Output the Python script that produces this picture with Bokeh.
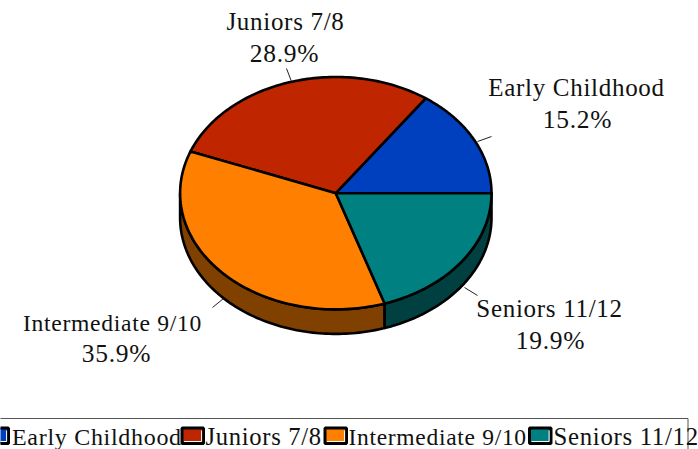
import numpy as np
from bokeh.plotting import figure
from bokeh.models import Range1d
from bokeh.core.properties import value
from bokeh.embed import file_html
from bokeh.resources import INLINE

categories = ["Early Childhood", "Juniors 7/8", "Intermediate 9/10", "Seniors 11/12"]
shares = [15.2, 28.9, 35.9, 19.9]
top_colors = ["#0040BF", "#BF2600", "#FF8000", "#008080"]
side_colors = ["#002060", "#601300", "#804000", "#004040"]

W, H = 698, 449
CX, CY, RX, RY, DEPTH = 335.3, 192.7, 155.7, 116.2, 24.5
FONT = value("Liberation Serif")
SPACING = 0.7

p = figure(width=W, height=H, output_backend="svg", toolbar_location=None,
           x_range=Range1d(0, W), y_range=Range1d(H, 0), min_border=0,
           margin=0, outline_line_color=None, background_fill_color="white",
           styles={"letter-spacing": f"{SPACING}px"})
p.axis.visible = False
p.grid.visible = False


def rim(a0, a1, dy=0.0):
    t = np.radians(np.linspace(a0, a1, 90))
    return CX + RX * np.cos(t), CY - RY * np.sin(t) + dy


edges = np.cumsum([0.0] + shares) / sum(shares) * 360.0
for i in range(len(shares)):
    a0, a1 = max(edges[i], 180.0), edges[i + 1]
    if a1 <= a0:
        continue
    x0, y0 = rim(a0, a1)
    x1, y1 = rim(a1, a0, DEPTH)
    p.patch(np.r_[x0, x1], np.r_[y0, y1], fill_color=side_colors[i],
            line_color="black", line_width=2.6, line_join="round")
for i in range(len(shares)):
    x0, y0 = rim(edges[i], edges[i + 1])
    p.patch(np.r_[CX, x0], np.r_[CY, y0], fill_color=top_colors[i],
            line_color="black", line_width=2.6, line_join="round")

label_pos = [(576, 87, 577, 119), (285, 21, 284, 53), (112, 322, 116, 353), (549, 308, 550, 340)]
name_size = ["25px", "25px", "23.6px", "25px"]
leaders = [((491, 477), (136, 141)), ((286, 291), (68, 81)), ((212, 223), (307, 298)), ((464, 477), (287, 295))]
for name, s, (nx, ny, vx, vy), (lx, ly), fs in zip(categories, shares, label_pos, leaders, name_size):
    pct = f"{s:.1f}%"
    p.text([nx - SPACING / 2 * len(name)], [ny], text=[name], text_font=FONT, text_font_size=fs, text_color="#111111",
           text_align="center", text_baseline="middle")
    p.text([vx - SPACING / 2 * len(pct)], [vy], text=[pct], text_font=FONT, text_font_size="25.5px", text_color="#111111",
           text_align="center", text_baseline="middle")
    p.line(lx, ly, line_color="#222222", line_width=1)

p.line([-2, 687.5, 687.5], [418, 418, 452], line_color="#555555", line_width=1)
swatch_x = [-13.5, 181.5, 324.5, 529]
text_x = [11.5, 205, 348, 553]
legend_size = ["24px", "24.6px", "23.5px", "24.8px"]
for sx, tx, c, name, fs in zip(swatch_x, text_x, top_colors, categories, legend_size):
    p.quad(left=[sx], right=[sx + 21.5], top=[427.5], bottom=[443], fill_color=c, line_color="black", line_width=3)
    p.line([sx + 2, sx + 19.6, sx + 19.6], [441, 441, 430], line_color="white", line_width=1)
    p.text([tx], [436], text=[name], text_font=FONT, text_font_size=fs, text_color="#111111",
           text_align="left", text_baseline="middle")

open("out.html", "w").write(file_html(p, INLINE))
